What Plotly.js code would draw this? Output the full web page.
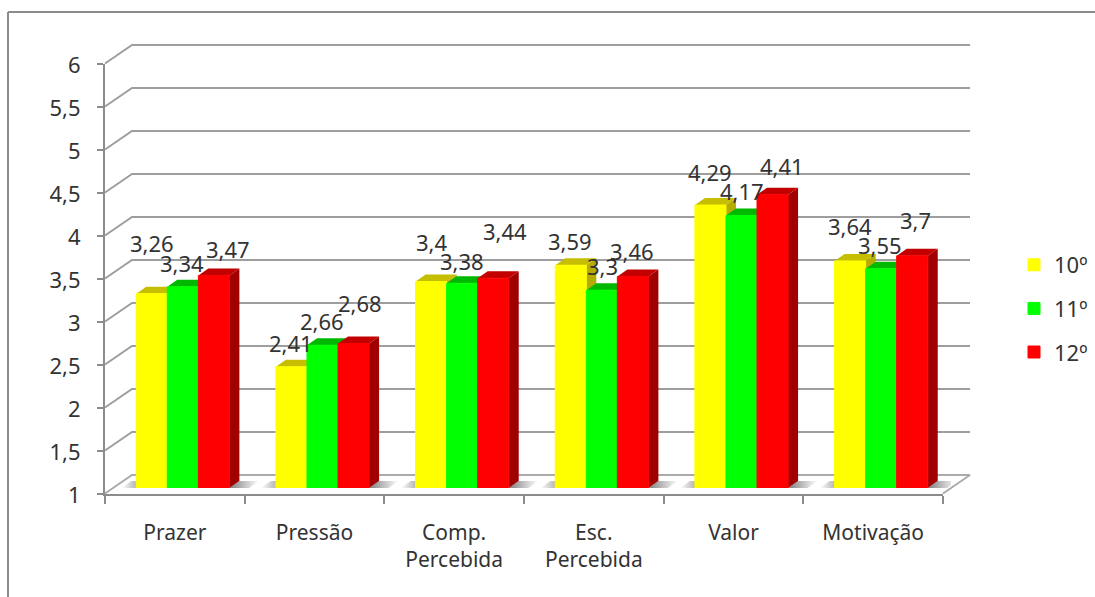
<!DOCTYPE html>
<html>
<head>
<meta charset="utf-8">
<script src="https://cdn.plot.ly/plotly-3.0.1.min.js"></script>
<style>html,body{margin:0;padding:0;background:#fff}#chart{width:1095px;height:597px}</style>
</head>
<body>
<div id="chart"></div>
<script>
// Mean scores per subscale, split by school year
const categories = ['Prazer', 'Pressão', 'Comp.<br>Percebida', 'Esc.<br>Percebida', 'Valor', 'Motivação'];
const seriesNames = ['10º', '11º', '12º'];
const values10 = [3.26, 2.41, 3.4, 3.59, 4.29, 3.64];
const values11 = [3.34, 2.66, 3.38, 3.3, 4.17, 3.55];
const values12 = [3.47, 2.68, 3.44, 3.46, 4.41, 3.7];
const valueTicks = [1, 1.5, 2, 2.5, 3, 3.5, 4, 4.5, 5, 5.5, 6];
const valueTickText = ['1', '1,5', '2', '2,5', '3', '3,5', '4', '4,5', '5', '5,5', '6'];

// Page-pixel centres of the value labels, one list per series
const labelX = [[152, 291, 431, 570, 710, 850], [182, 322, 462, 602, 742, 880], [228, 360, 505, 632, 782, 915]];
const labelY = [[243, 343, 242, 241, 172, 226], [263, 321, 261, 266, 191, 245], [249, 303, 231, 251, 166, 220]];

const W = 1095, H = 597;
const FONT = '"Noto Sans", sans-serif';
const INK = '#333333';
const AXIS = '#8c8c8c';
const WALL = '#9e9e9e';
const fronts = ['#ffff00', '#00ff00', '#ff0000'];
const tops = ['#c6be00', '#00b800', '#c20000'];
const sides = ['#b4ac00', '#009c00', '#a00000'];
const allValues = [values10, values11, values12];

// Frame of the front plane of the plot, in page pixels
const LEFT = 105, RIGHT = 943, TOP = 63.5, BOTTOM = 493.5;
const PX_PER_CAT = (RIGHT - LEFT) / categories.length;
const PX_PER_UNIT = (BOTTOM - TOP) / 5;
const xDom = (a, b) => [a / W, b / W];
const yDom = (a, b) => [1 - b / H, 1 - a / H];

// Bars stand slightly behind the front plane of the floor
const BAR_DX = 8, BAR_DY = 5.5;
// Extrusion of a bar and of the chart box, in px and converted to axis units
const BOX_PX_X = 27, BOX_PX_Y = 18.5, PAD = 3;
const depthX = 10 / PX_PER_CAT, depthY = 7 / PX_PER_UNIT;
const boxX = BOX_PX_X / PX_PER_CAT, boxY = BOX_PX_Y / PX_PER_UNIT;
const padX = PAD / PX_PER_CAT, padY = PAD / PX_PER_UNIT;
const GAP = 1 / 3;
const barW = (1 - GAP) / 3;
const X0 = -0.5, X1 = categories.length - 0.5;

const traces = [];

// Placeholder that gives the visible category axis its labels
traces.push({x: categories, y: categories.map(() => 1), type: 'scatter', mode: 'none',
  xaxis: 'x', yaxis: 'y', showlegend: false, hoverinfo: 'skip'});

// Back-wall gridlines with their slanted returns to the value axis
valueTicks.forEach(t => {
  if (t === 1) return;
  traces.push({x: [X0, X0 + boxX, X1 + boxX], y: [t, t + boxY, t + boxY],
    mode: 'lines', line: {color: WALL, width: 2},
    xaxis: 'x2', yaxis: 'y2', showlegend: false, hoverinfo: 'skip'});
});
// Floor outline
traces.push({x: [X0, X0 + boxX, X1 + boxX, X1], y: [1, 1 + boxY, 1 + boxY, 1],
  mode: 'lines', line: {color: '#ababab', width: 2},
  xaxis: 'x2', yaxis: 'y2', showlegend: false, hoverinfo: 'skip'});

// Soft floor shadows either side of each bar group
const shadowW = 15 / PX_PER_CAT;
categories.forEach((c, i) => {
  const l = i - 1.5 * barW, r = i + 1.5 * barW;
  const gray = 'rgba(120,120,120,';
  traces.push({x: [l - shadowW, l - shadowW + depthX, l + depthX, l, l - shadowW],
    y: [1, 1 + depthY, 1 + depthY, 1, 1], fill: 'toself', mode: 'none',
    fillgradient: {type: 'horizontal', colorscale: [[0, gray + '0)'], [1, gray + '0.9)']]},
    xaxis: 'x3', yaxis: 'y3', showlegend: false, hoverinfo: 'skip'});
  traces.push({x: [r, r + depthX, r + depthX + shadowW * 1.3, r + shadowW * 1.3, r],
    y: [1, 1 + depthY, 1 + depthY, 1, 1], fill: 'toself', mode: 'none',
    fillgradient: {type: 'horizontal', colorscale: [[0, gray + '0.95)'], [1, gray + '0)']]},
    xaxis: 'x3', yaxis: 'y3', showlegend: false, hoverinfo: 'skip'});
});

// Top and side faces of the bars, painted series by series below the front faces
allValues.forEach((vals, s) => {
  const tx = [], ty = [], sx = [], sy = [];
  vals.forEach((v, i) => {
    const l = i - 1.5 * barW + s * barW, r = l + barW;
    tx.push(l, l + depthX, r + depthX, r, l, null);
    ty.push(v, v + depthY, v + depthY, v, v, null);
    sx.push(r, r + depthX, r + depthX, r, r, null);
    sy.push(v, v + depthY, 1 + depthY, 1, v, null);
  });
  traces.push({x: sx, y: sy, fill: 'toself', mode: 'none', fillcolor: sides[s],
    xaxis: 'x3', yaxis: 'y3', showlegend: false, hoverinfo: 'skip'});
  traces.push({x: tx, y: ty, fill: 'toself', mode: 'none', fillcolor: tops[s],
    xaxis: 'x3', yaxis: 'y3', showlegend: false, hoverinfo: 'skip'});
});

// Front faces of the bars
allValues.forEach((vals, s) => {
  traces.push({x: categories, y: vals, name: seriesNames[s], type: 'bar',
    legendgroup: seriesNames[s],
    marker: {color: fronts[s], line: {width: 1, color: fronts[s]}},
    xaxis: 'x4', yaxis: 'y4',
    hovertemplate: '%{y}<extra>' + seriesNames[s] + '</extra>'});
});

// Value labels, comma as the decimal mark
const annotations = [];
allValues.forEach((vals, s) => vals.forEach((v, i) => {
  annotations.push({xref: 'paper', yref: 'paper', x: labelX[s][i] / W, y: 1 - labelY[s][i] / H,
    xanchor: 'center', yanchor: 'middle', showarrow: false,
    text: String(v).replace('.', ','), font: {family: FONT, size: 22, color: INK}});
}));

const hiddenAxis = {visible: false, fixedrange: true};
const layout = {
  width: W, height: H, autosize: false,
  margin: {l: 0, r: 0, t: 0, b: 0, pad: 0},
  paper_bgcolor: '#ffffff', plot_bgcolor: 'rgba(0,0,0,0)',
  barmode: 'group', bargap: GAP, bargroupgap: 0,
  font: {family: FONT, size: 20, color: INK},
  xaxis: {type: 'category', categoryorder: 'array', categoryarray: categories,
    domain: xDom(LEFT, RIGHT), anchor: 'y', range: [X0, X1],
    tickson: 'boundaries', ticks: 'outside', ticklen: 8, tickwidth: 2, tickcolor: AXIS,
    showline: true, linecolor: AXIS, linewidth: 2, showgrid: false, zeroline: false,
    tickangle: 0, tickfont: {family: FONT, size: 21, color: INK}, ticklabelstandoff: 19, automargin: false},
  yaxis: {domain: yDom(TOP, BOTTOM), anchor: 'x', range: [1, 6],
    tickmode: 'array', tickvals: valueTicks, ticktext: valueTickText,
    ticks: 'outside', ticklen: 6, tickwidth: 2, tickcolor: AXIS,
    showline: true, linecolor: AXIS, linewidth: 2, showgrid: false, zeroline: false,
    tickfont: {family: FONT, size: 22, color: INK}, ticklabelstandoff: 12, ticklabelshift: 2, automargin: false},
  // Linear axes for the box outline, extended past the front plane so its lines are not clipped
  xaxis2: Object.assign({domain: xDom(LEFT - PAD, RIGHT + BOX_PX_X + PAD), anchor: 'y2',
    range: [X0 - padX, X1 + boxX + padX]}, hiddenAxis),
  yaxis2: Object.assign({domain: yDom(TOP - BOX_PX_Y - PAD, BOTTOM + PAD), anchor: 'x2',
    range: [1 - padY, 6 + boxY + padY]}, hiddenAxis),
  xaxis3: Object.assign({domain: xDom(LEFT + BAR_DX, RIGHT + BAR_DX), anchor: 'y3', range: [X0, X1]}, hiddenAxis),
  yaxis3: Object.assign({domain: yDom(TOP - BAR_DY, BOTTOM - BAR_DY), anchor: 'x3', range: [1, 6]}, hiddenAxis),
  xaxis4: Object.assign({type: 'category', categoryorder: 'array', categoryarray: categories,
    domain: xDom(LEFT + BAR_DX, RIGHT + BAR_DX), anchor: 'y4', range: [X0, X1]}, hiddenAxis),
  yaxis4: Object.assign({domain: yDom(TOP - BAR_DY, BOTTOM - BAR_DY), anchor: 'x4', range: [1, 6]}, hiddenAxis),
  showlegend: true,
  legend: {x: 1014 / W, y: 1 - 244 / H, xanchor: 'left', yanchor: 'top',
    traceorder: 'grouped', tracegroupgap: 12, itemclick: false, itemdoubleclick: false,
    bgcolor: 'rgba(0,0,0,0)', font: {family: FONT, size: 22, color: INK}},
  annotations: annotations,
  shapes: [
    // Outer frame of the chart area: top and left edges
    {type: 'line', xref: 'paper', yref: 'paper', x0: 8 / W, x1: 1, y0: 1 - 12 / H, y1: 1 - 12 / H,
      line: {color: AXIS, width: 2}},
    {type: 'line', xref: 'paper', yref: 'paper', x0: 8 / W, x1: 8 / W, y0: 0, y1: 1 - 12 / H,
      line: {color: AXIS, width: 2}}
  ]
};

Plotly.newPlot('chart', traces, layout, {displayModeBar: false, responsive: false});
</script>
</body>
</html>
